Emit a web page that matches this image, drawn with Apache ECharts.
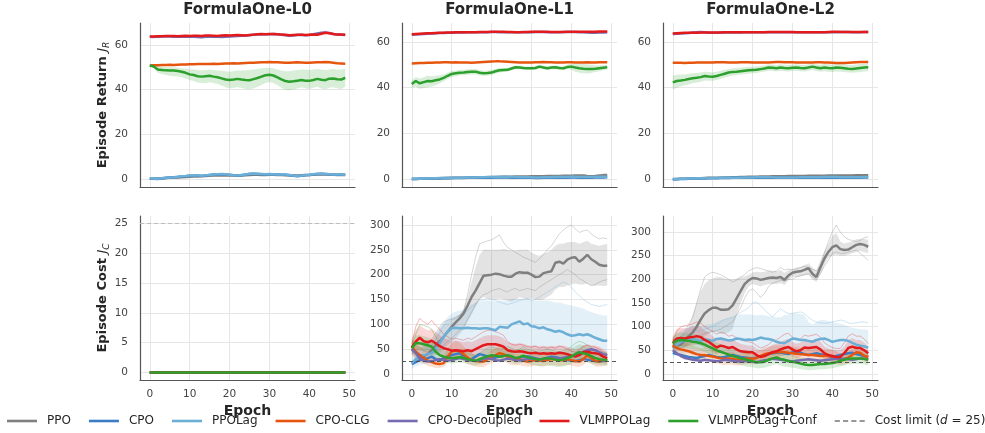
<!DOCTYPE html>
<html>
<head>
<meta charset="utf-8">
<script src="https://cdn.jsdelivr.net/npm/echarts@6/dist/echarts.min.js"></script>
<style>
  html, body { margin: 0; padding: 0; background: #ffffff; }
  #chart { width: 985px; height: 433px; }
</style>
</head>
<body>
<div id="chart"></div>
<script>
// ---------------------------------------------------------------------------
// Training curves on FormulaOne levels L0/L1/L2: episode return and cost
// per epoch for seven algorithms (mean line + spread band, some seed runs).
// ---------------------------------------------------------------------------
const EPOCHS = Array.from({ length: 50 }, (_, i) => i);
const COST_LIMIT = 25;
const METHODS = ['PPO', 'CPO', 'PPOLag', 'CPO-CLG', 'CPO-Decoupled', 'VLMPPOLag', 'VLMPPOLag+Conf'];
const LEVELS = ['FormulaOne-L0', 'FormulaOne-L1', 'FormulaOne-L2'];
const RETURN_TICKS = [0, 20, 40, 60];
const COST_TICKS_L0 = [0, 5, 10, 15, 20, 25];
const COST_TICKS = [0, 50, 100, 150, 200, 250, 300];
const EPOCH_TICKS = [0, 10, 20, 30, 40, 50];

// ---------------- Episode return, L0 ----------------
const ret_l0_ppo = [0.1,0.1,0.2,0.3,0.4,0.5,0.6,0.7,0.8,0.9, 1.0,1.1,1.1,1.2,1.3,1.4,1.5,1.5,1.6,1.6, 1.7,1.6,1.5,1.6,1.7,1.8,1.9,1.9,1.8,1.8, 1.9,1.9,1.8,1.8,1.7,1.7,1.6,1.6,1.7,1.8, 1.8,1.9,2.0,2.1,2.0,1.9,1.9,1.8,1.8,1.8];
const ret_l0_cpo = [0.2,0.1,0.0,0.2,0.4,0.6,0.8,0.9,1.1,1.2, 1.4,1.4,1.5,1.3,1.6,1.8,2.0,2.0,2.1,2.0, 1.9,1.7,1.6,1.7,2.0,2.2,2.3,2.2,2.1,2.0, 2.1,2.1,2.0,1.9,1.9,1.7,1.4,1.2,1.4,1.7, 1.8,2.0,2.2,2.3,2.2,2.1,2.0,1.9,2.0,1.9];
const ret_l0_ppolag = [0.3,0.2,0.1,0.3,0.5,0.7,0.8,1.0,1.2,1.3, 1.5,1.5,1.6,1.4,1.6,1.8,2.0,2.1,2.2,2.1, 1.9,1.7,1.6,1.8,2.0,2.3,2.4,2.3,2.2,2.1, 2.2,2.1,2.0,2.0,2.0,1.8,1.5,1.3,1.5,1.8, 1.9,2.1,2.3,2.3,2.2,2.1,2.0,2.0,2.0,1.9];
const ret_l0_clg = [50.8,50.9,50.9,51.0,51.0,51.1,51.0,51.1,51.2,51.2, 51.3,51.3,51.4,51.4,51.5,51.5,51.6,51.5,51.6,51.7, 51.7,51.8,51.7,51.8,51.9,52.0,52.0,52.1,52.2,52.2, 52.3,52.2,52.2,52.1,52.0,52.0,52.1,52.2,52.1,52.0, 52.0,52.1,52.2,52.2,52.3,52.2,52.0,51.8,51.7,51.6];
const ret_l0_dec = [63.6,63.5,63.7,63.8,63.9,63.8,63.7,63.6,63.6,63.7, 63.8,63.6,63.5,63.4,63.6,63.8,63.7,63.6,63.5,63.6, 63.8,63.9,64.0,64.1,64.2,64.3,64.5,64.6,64.8,64.8, 64.8,64.9,64.8,64.5,64.3,64.1,64.2,64.4,64.5,64.3, 64.4,64.8,65.1,65.4,65.6,65.3,64.9,64.6,64.5,64.4];
const ret_l0_vlm = [63.8,63.8,63.9,63.9,64.0,64.0,64.0,63.9,64.0,64.1, 64.0,64.1,64.1,64.0,64.2,64.2,64.1,64.0,64.2,64.3, 64.2,64.3,64.4,64.3,64.2,64.4,64.6,64.8,64.9,64.8, 64.9,64.9,64.8,64.6,64.5,64.3,64.4,64.5,64.5,64.4, 64.5,64.6,64.5,65.0,65.4,65.2,64.9,64.6,64.6,64.5];
const ret_l0_conf = [50.8,50.3,49.0,48.8,48.6,48.5,48.5,48.3,48.0,47.5, 46.8,46.5,46.0,45.8,46.0,46.2,45.8,45.5,45.0,44.5, 44.3,44.5,44.8,44.5,44.3,44.2,44.7,45.2,45.8,46.4, 46.6,46.3,45.5,44.6,43.8,43.5,43.7,44.0,44.3,44.0, 43.9,44.3,44.8,44.4,44.2,44.9,45.0,44.6,44.5,45.3];
const ret_l0_conf_lo = [50.5,49.5,47.5,47.0,46.5,46.2,46.0,45.8,45.5,45.0, 44.3,43.8,43.2,43.0,43.0,43.3,43.0,42.5,41.8,41.0, 40.5,40.8,41.0,40.7,40.3,40.2,40.5,41.2,42.0,43.0, 43.4,43.0,42.0,40.8,39.8,39.6,40.0,40.5,41.0,40.6, 40.3,40.8,41.3,40.5,40.2,40.8,41.0,40.5,40.3,41.3];
const ret_l0_conf_hi = [51.0,51.0,50.5,50.3,50.0,50.0,50.0,49.8,49.6,49.3, 49.0,49.0,48.8,48.6,48.8,49.0,48.8,48.6,48.4,48.2, 48.0,48.3,48.5,48.5,48.6,48.8,49.0,49.2,49.5,49.7, 49.8,49.5,49.0,48.5,48.2,48.2,48.5,48.8,49.0,49.0, 48.8,49.0,49.2,49.0,48.8,49.0,49.2,49.0,49.0,49.3];

// ---------------- Episode return, L1 ----------------
const ret_l1_ppo = [0.0,0.0,0.1,0.1,0.2,0.2,0.3,0.3,0.4,0.4, 0.5,0.5,0.6,0.6,0.6,0.7,0.7,0.8,0.8,0.8, 0.9,0.9,0.9,1.0,1.0,1.0,1.1,1.1,1.1,1.1, 1.2,1.2,1.2,1.2,1.3,1.3,1.3,1.3,1.4,1.4, 1.4,1.5,1.5,1.5,1.3,1.2,1.3,1.5,1.7,1.8];
const ret_l1_cpo = [0.0,0.0,0.1,0.1,0.1,0.2,0.2,0.2,0.3,0.3, 0.3,0.4,0.4,0.4,0.5,0.5,0.5,0.6,0.6,0.6, 0.6,0.7,0.7,0.7,0.7,0.6,0.6,0.5,0.5,0.5, 0.5,0.4,0.4,0.5,0.5,0.5,0.6,0.6,0.6,0.6, 0.7,0.7,0.6,0.6,0.6,0.6,0.7,0.7,0.7,0.8];
const ret_l1_ppolag = [0.1,0.1,0.1,0.2,0.2,0.3,0.3,0.4,0.4,0.5, 0.5,0.5,0.6,0.6,0.7,0.7,0.7,0.8,0.8,0.9, 0.9,0.9,1.0,1.0,1.0,0.9,0.9,0.8,0.8,0.8, 0.8,0.7,0.7,0.8,0.8,0.8,0.9,0.9,0.9,0.9, 1.0,1.0,0.9,0.9,0.9,0.9,0.9,1.0,1.0,1.0];
const ret_l1_clg = [50.6,50.7,50.8,50.8,50.9,50.9,51.0,51.0,51.1,51.1, 51.0,51.1,51.0,51.0,51.0,50.9,51.0,51.1,51.2,51.3, 51.4,51.5,51.5,51.4,51.3,51.2,51.1,51.0,51.0,51.0, 51.0,51.1,51.1,51.2,51.1,51.1,51.0,51.0,51.0,51.1, 51.1,51.0,51.0,51.0,51.1,51.0,51.0,51.1,51.1,51.1];
const ret_l1_dec = [63.2,63.3,63.4,63.5,63.6,63.7,63.8,63.9,63.9,64.0, 64.0,64.1,64.1,64.1,64.2,64.2,64.2,64.3,64.3,64.3, 64.4,64.4,64.3,64.3,64.3,64.2,64.2,64.2,64.3,64.3, 64.3,64.4,64.4,64.4,64.3,64.3,64.3,64.3,64.4,64.4, 64.4,64.4,64.3,64.2,64.1,64.0,64.0,64.1,64.1,64.2];
const ret_l1_vlm = [63.4,63.5,63.6,63.7,63.8,63.8,63.9,64.0,64.0,64.1, 64.1,64.2,64.2,64.2,64.3,64.3,64.3,64.4,64.4,64.4, 64.5,64.5,64.5,64.5,64.4,64.4,64.3,64.3,64.4,64.4, 64.5,64.5,64.5,64.5,64.5,64.4,64.4,64.4,64.4,64.5, 64.5,64.5,64.5,64.5,64.5,64.5,64.5,64.6,64.6,64.6];
const ret_l1_conf = [41.6,42.9,41.9,42.4,42.9,42.8,43.2,43.6,44.3,45.2, 46.0,46.3,46.5,46.6,46.8,47.0,47.0,46.5,46.3,46.4, 46.6,47.2,47.6,47.7,47.8,48.4,48.9,48.8,48.6,48.5, 48.5,48.6,49.2,48.8,48.5,48.8,48.9,48.6,48.5,49.0, 49.2,48.8,48.5,48.3,48.2,48.2,48.3,48.5,48.7,48.9];
const ret_l1_conf_lo = [40.0,40.5,39.5,39.8,40.2,40.5,41.0,41.8,42.8,43.8, 44.6,45.0,45.3,45.4,45.6,45.8,45.8,45.3,45.2,45.3, 45.5,46.2,46.6,46.8,47.0,47.6,48.1,48.0,47.8,47.7, 47.7,47.8,48.4,48.0,47.7,48.0,48.1,47.8,47.6,48.0, 47.8,47.0,46.5,46.3,46.2,46.4,46.8,47.2,47.6,47.9];
const ret_l1_conf_hi = [43.2,44.6,44.0,44.6,45.2,45.0,45.2,45.4,45.8,46.6, 47.3,47.5,47.7,47.8,48.0,48.2,48.2,47.7,47.4,47.5, 47.7,48.2,48.6,48.6,48.6,49.2,49.7,49.6,49.4,49.3, 49.3,49.4,50.0,49.6,49.3,49.6,49.7,49.4,49.4,50.0, 50.6,50.5,50.5,50.3,50.2,50.0,49.8,49.8,49.8,49.9];

// ---------------- Episode return, L2 ----------------
const ret_l2_ppo = [0.0,0.0,0.1,0.1,0.2,0.2,0.3,0.3,0.4,0.5, 0.5,0.6,0.6,0.7,0.7,0.8,0.8,0.9,0.9,1.0, 1.0,1.0,1.1,1.1,1.1,1.2,1.2,1.2,1.2,1.3, 1.3,1.3,1.3,1.3,1.4,1.4,1.4,1.4,1.4,1.5, 1.5,1.5,1.5,1.5,1.5,1.5,1.6,1.6,1.6,1.6];
const ret_l2_cpo = [-0.2,-0.1,0.0,0.0,0.1,0.1,0.2,0.2,0.2,0.3, 0.3,0.3,0.4,0.4,0.4,0.5,0.5,0.5,0.5,0.6, 0.6,0.6,0.6,0.6,0.6,0.6,0.5,0.5,0.5,0.5, 0.5,0.5,0.5,0.6,0.6,0.6,0.6,0.6,0.6,0.6, 0.6,0.6,0.6,0.6,0.5,0.5,0.6,0.6,0.7,0.7];
const ret_l2_ppolag = [-0.1,0.0,0.1,0.1,0.2,0.2,0.3,0.3,0.3,0.4, 0.4,0.4,0.5,0.5,0.5,0.6,0.6,0.6,0.7,0.7, 0.7,0.8,0.8,0.8,0.8,0.8,0.7,0.7,0.7,0.7, 0.7,0.7,0.8,0.8,0.8,0.8,0.8,0.8,0.9,0.9, 0.9,0.9,0.8,0.8,0.8,0.8,0.8,0.8,0.9,0.9];
const ret_l2_clg = [50.9,50.9,50.9,50.8,50.9,50.9,51.0,51.0,51.0,51.0, 51.0,51.1,51.1,51.1,51.0,51.0,51.0,51.1,51.1,51.1, 51.0,51.0,51.0,51.0,51.0,51.1,51.2,51.2,51.1,51.1, 51.1,51.0,51.0,51.0,51.0,51.0,51.1,51.1,51.0,51.0, 50.9,50.8,50.8,50.8,50.9,51.0,51.1,51.2,51.2,51.2];
const ret_l2_dec = [63.5,63.6,63.7,63.8,63.9,64.1,64.3,64.4,64.2,64.0, 64.0,64.0,64.1,64.1,64.1,64.1,64.1,64.1,64.2,64.2, 64.2,64.2,64.2,64.3,64.3,64.3,64.3,64.3,64.3,64.3, 64.3,64.3,64.2,64.2,64.2,64.2,64.2,64.3,64.3,64.3, 64.3,64.3,64.4,64.4,64.4,64.3,64.3,64.3,64.4,64.4];
const ret_l2_vlm = [63.7,63.8,63.9,64.0,64.0,64.0,64.0,64.1,64.1,64.1, 64.1,64.1,64.1,64.2,64.2,64.2,64.2,64.2,64.2,64.2, 64.3,64.3,64.3,64.3,64.4,64.4,64.4,64.4,64.4,64.4, 64.4,64.3,64.3,64.3,64.3,64.2,64.2,64.3,64.3,64.4, 64.5,64.5,64.4,64.4,64.4,64.4,64.4,64.4,64.4,64.4];
const ret_l2_conf = [42.3,42.9,43.1,43.4,43.8,44.1,44.3,44.6,45.1,44.9, 44.8,45.1,45.6,46.1,46.6,46.9,47.0,47.2,47.4,47.6, 47.7,47.8,48.1,48.4,48.8,48.7,48.5,48.8,48.6,48.5, 48.7,48.8,48.6,48.5,48.8,49.2,48.8,48.5,48.8,48.6, 48.5,48.8,48.7,48.5,48.3,48.2,48.4,48.6,48.8,48.9];
const ret_l2_conf_lo = [39.2,40.0,40.5,41.0,41.5,41.9,42.2,42.6,43.1,43.0, 43.0,43.3,43.8,44.4,44.9,45.3,45.4,45.7,45.9,46.1, 46.3,46.4,46.7,47.1,47.4,47.3,47.1,47.4,47.2,47.1, 47.3,47.4,47.2,47.1,47.4,47.7,47.3,47.0,47.2,47.0, 46.9,47.1,47.0,46.8,46.6,46.5,46.6,46.9,47.1,47.2];
const ret_l2_conf_hi = [45.2,45.6,45.7,45.8,46.1,46.3,46.4,46.6,47.0,46.8, 46.7,47.0,47.4,47.8,48.2,48.5,48.6,48.7,48.9,49.1, 49.2,49.3,49.5,49.8,50.2,50.1,49.9,50.2,50.0,49.9, 50.1,50.2,50.0,49.9,50.2,50.6,50.2,50.0,50.3,50.2, 50.1,50.4,50.3,50.2,50.0,49.9,50.1,50.3,50.5,50.6];

// ---------------- Episode cost, L0 (every method stays at zero) ----------------
const cost_l0 = [0,0,0,0,0,0,0,0,0,0, 0,0,0,0,0,0,0,0,0,0, 0,0,0,0,0,0,0,0,0,0, 0,0,0,0,0,0,0,0,0,0, 0,0,0,0,0,0,0,0,0,0];

// ---------------- Episode cost, L1 ----------------
const cost_l1_ppo = [50,44,38,36,40,48,58,66,75,85, 95,104,112,122,138,155,168,183,198,199, 200,202,201,198,196,196,202,205,204,204, 200,195,196,203,205,207,224,226,222,230, 234,235,226,232,240,231,226,220,218,218];
const cost_l1_ppo_lo = [40,32,25,22,25,30,38,44,50,58, 65,72,80,90,105,120,135,150,155,152, 150,150,152,150,148,146,150,155,152,150, 152,150,148,150,155,160,170,175,175,178, 180,182,180,180,182,178,178,178,177,178];
const cost_l1_ppo_hi = [60,58,55,55,60,68,80,92,100,105, 110,115,120,130,155,185,215,240,250,250, 250,250,250,252,250,248,248,250,250,250, 245,240,238,242,245,250,258,262,262,265, 266,265,262,265,268,262,260,258,260,262];
const cost_l1_ppo_seed_a = [55,60,62,58,62,70,82,95,105,108, 110,112,118,128,160,200,235,262,265,268, 270,275,280,265,255,250,245,240,235,232, 228,225,232,240,250,258,270,282,290,296, 300,292,285,288,290,282,276,272,274,272];
const cost_l1_ppo_seed_b = [45,38,30,30,32,38,45,50,58,66, 72,80,88,95,110,125,140,152,160,162, 168,170,172,168,165,170,172,168,170,172, 170,168,175,180,185,190,195,200,205,210, 205,200,192,188,182,178,180,185,188,190];
const cost_l1_cpo = [20,24,28,30,32,35,30,28,32,35, 38,40,42,35,28,30,35,40,38,36, 34,33,35,37,36,34,32,33,35,36, 34,32,30,31,33,35,34,32,30,28, 27,26,28,30,29,27,26,25,26,27];
const cost_l1_ppolag = [22,30,35,38,40,42,50,62,75,85, 92,93,92,92,93,92,92,91,92,92, 90,88,95,94,93,100,103,106,100,102, 96,95,92,94,90,88,85,87,84,80, 77,78,80,78,80,77,73,70,67,67];
const cost_l1_ppolag_lo = [10,15,18,20,22,22,25,28,32,35, 36,36,35,34,35,35,34,33,34,34, 33,32,35,35,35,38,40,42,40,40, 38,37,35,36,35,34,33,34,33,32, 31,31,32,31,32,31,30,30,28,28];
const cost_l1_ppolag_hi = [38,45,52,56,58,62,75,92,105,115, 122,126,128,130,135,140,144,146,148,148, 147,146,148,148,148,150,152,152,150,150, 148,148,147,148,148,146,144,144,142,140, 138,136,134,132,128,125,122,120,118,118];
const cost_l1_ppolag_seed = [20,28,36,45,52,58,68,82,98,108, 112,115,118,122,128,135,142,148,150,152, 150,148,145,142,140,142,145,148,150,152, 148,150,155,160,165,170,175,180,185,182, 175,165,158,150,145,140,138,136,138,140];
const cost_l1_clg = [55,45,38,32,27,24,21,20,22,35, 45,48,46,40,33,28,26,25,25,30, 35,38,42,40,35,30,28,30,27,25, 26,28,27,26,28,30,29,27,28,30, 28,26,25,30,38,32,26,25,28,30];
const cost_l1_clg_lo = [40,30,25,20,16,14,12,12,14,22, 30,32,30,26,20,17,15,14,14,18, 22,25,28,26,22,18,17,18,16,15, 15,17,16,15,17,18,17,16,17,18, 17,15,14,18,24,20,15,14,16,18];
const cost_l1_clg_hi = [72,62,55,48,42,38,34,32,34,52, 62,66,64,56,48,42,38,36,36,42, 48,52,58,56,50,44,40,42,40,36, 38,40,38,37,40,42,41,39,40,42, 40,38,36,42,52,46,38,36,40,42];
const cost_l1_dec = [50,42,32,27,25,26,28,30,28,27, 28,30,32,30,28,27,26,28,30,32, 30,28,27,29,31,30,28,27,29,30, 31,30,29,30,32,33,32,31,33,35, 36,38,40,45,48,50,48,44,40,38];
const cost_l1_vlm = [54,65,73,66,64,67,62,56,52,50, 47,48,47,46,48,46,50,54,58,60, 60,60,58,55,48,46,45,46,45,43, 42,43,41,42,41,42,41,43,42,40, 37,35,38,44,45,43,42,40,35,32];
const cost_l1_vlm_lo = [38,45,50,45,42,44,40,36,34,32, 30,31,30,30,31,30,33,36,40,42, 42,42,40,38,33,31,30,31,30,29, 28,29,27,28,27,28,27,29,28,26, 24,22,25,30,31,29,28,26,22,20];
const cost_l1_vlm_hi = [72,88,98,92,88,90,85,78,72,70, 66,68,66,64,66,64,68,72,76,78, 78,78,76,72,64,62,61,62,61,58, 57,58,56,57,56,57,56,58,57,55, 52,50,53,58,60,58,57,55,50,46];
const cost_l1_vlm_seed = [60,95,112,105,100,108,98,90,80,75, 70,72,70,68,72,70,75,80,85,88, 88,85,82,78,65,60,58,60,58,55, 54,56,52,54,52,54,52,56,54,50, 46,44,48,55,58,55,54,50,45,40];
const cost_l1_conf = [52,62,62,60,58,55,45,38,35,33, 32,33,34,33,30,28,27,30,33,36, 38,37,35,36,38,36,32,34,37,34, 32,30,29,31,32,31,29,28,29,32, 35,40,44,42,40,36,32,30,29,28];
const cost_l1_conf_lo = [40,48,48,46,44,42,32,26,24,22, 21,22,23,22,20,18,17,19,22,24, 26,25,23,24,25,23,20,21,23,21, 19,17,15,16,17,16,15,14,15,17, 20,25,28,27,24,21,19,18,17,16];
const cost_l1_conf_hi = [65,78,78,76,74,70,60,52,48,46, 44,45,46,45,42,40,38,42,46,50, 52,50,48,49,52,50,46,48,52,48, 46,44,44,46,48,46,44,43,45,48, 52,56,60,58,55,50,46,44,42,41];
const cost_l1_conf_seed = [55,80,100,98,95,90,75,60,52,48, 45,46,47,46,42,40,38,42,48,52, 55,52,50,52,55,52,48,50,55,50, 48,46,46,48,50,48,46,45,47,50, 55,62,66,63,58,52,48,45,44,42];

// ---------------- Episode cost, L2 ----------------
const cost_l2_ppo = [62,60,62,70,80,88,100,115,128,135, 140,140,136,136,137,145,160,175,190,198, 203,202,199,201,203,204,203,205,199,208, 214,216,217,220,224,212,205,225,244,258, 268,272,264,262,263,268,273,275,273,269];
const cost_l2_ppo_lo = [50,48,50,55,60,65,70,75,80,85, 90,88,85,85,88,95,125,150,170,185, 190,188,185,188,190,190,190,192,188,198, 205,205,206,208,210,200,195,210,230,245, 250,252,250,250,252,255,258,260,258,255];
const cost_l2_ppo_hi = [75,75,78,88,100,125,150,175,190,198, 202,205,205,202,200,200,202,205,206,210, 215,216,215,216,218,218,217,220,214,220, 222,225,226,230,234,225,218,240,260,275, 292,298,280,276,278,280,285,286,286,284];
const cost_l2_ppo_seed_a = [70,72,78,90,105,120,150,180,205,212, 215,213,210,205,200,195,198,205,210,218, 222,225,223,220,218,215,218,225,220,222, 220,222,225,228,225,222,218,230,255,280, 300,315,300,290,285,282,280,282,288,290];
const cost_l2_ppo_seed_b = [55,52,55,60,68,72,78,82,86,88, 90,92,95,100,105,110,125,140,160,175, 180,172,162,170,185,192,195,198,196,200, 200,205,208,210,212,205,200,212,228,240, 255,258,255,255,258,260,262,255,248,240];
const cost_l2_cpo = [45,42,40,38,36,35,34,36,38,40, 38,36,35,36,38,40,38,36,35,34, 33,35,38,40,42,44,45,46,44,42, 46,48,45,42,40,42,44,42,40,38, 36,38,40,42,44,45,42,40,38,36];
const cost_l2_ppolag = [55,62,68,70,72,74,72,70,73,72, 70,74,75,73,71,72,75,74,72,73, 72,74,77,75,74,72,68,66,65,70, 75,74,72,72,70,68,72,74,75,72, 68,70,72,72,70,66,62,60,58,56];
const cost_l2_ppolag_lo = [35,40,42,44,45,46,45,44,45,44, 42,44,45,44,42,42,44,44,42,42, 42,44,45,44,43,42,40,38,38,40, 42,42,40,40,40,38,40,42,42,40, 38,40,40,40,38,36,34,33,32,31];
const cost_l2_ppolag_hi = [75,85,92,96,98,102,100,100,104,105, 106,110,114,116,118,120,124,126,126,126, 125,124,125,124,122,122,120,120,124,126, 128,128,127,125,110,104,110,114,114,112, 110,108,106,104,100,98,96,95,94,93];
const cost_l2_ppolag_seed = [60,70,80,85,90,95,92,90,95,98, 100,105,110,115,118,120,125,130,135,140, 150,152,145,135,128,121,130,138,132,128, 128,130,131,128,120,114,110,108,107,108, 110,112,114,112,108,107,108,110,110,108];
const cost_l2_clg = [60,55,52,50,48,45,42,40,40,38, 37,35,33,32,33,32,30,30,32,33, 32,34,38,42,44,45,46,47,46,45, 44,43,42,41,40,40,39,38,38,38, 37,34,30,32,35,40,46,45,38,36];
const cost_l2_clg_lo = [45,40,37,35,33,30,28,27,27,25, 24,22,20,19,20,19,18,18,20,21, 20,22,25,29,31,32,33,34,33,32, 31,30,29,28,27,27,26,25,25,25, 24,21,18,20,23,27,32,31,25,23];
const cost_l2_clg_hi = [78,72,68,66,64,60,57,55,55,52, 51,49,47,46,47,46,43,43,45,46, 45,47,52,56,58,59,60,61,60,59, 58,57,56,55,54,54,53,52,52,52, 51,48,43,45,48,54,60,59,52,50];
const cost_l2_dec = [50,44,38,34,32,30,29,28,30,29, 28,27,28,30,29,28,27,26,27,28, 26,25,27,29,30,32,31,30,29,28, 27,28,29,30,31,30,29,28,29,30, 31,32,33,32,31,30,31,33,32,30];
const cost_l2_vlm = [65,75,76,75,77,78,80,78,72,68, 62,56,60,58,55,57,52,48,47,46, 46,40,36,38,42,46,48,52,55,57, 52,48,50,56,55,56,57,52,44,40, 38,36,36,44,55,58,55,55,50,44];
const cost_l2_vlm_lo = [50,58,60,58,60,60,62,60,55,52, 46,42,45,43,40,42,38,34,33,32, 32,27,24,26,29,32,34,38,40,42, 38,34,36,41,40,41,42,38,31,28, 26,24,24,31,40,43,41,41,36,31];
const cost_l2_vlm_hi = [80,95,98,96,98,100,102,100,92,88, 80,74,78,76,72,74,68,64,62,60, 60,54,50,52,56,62,64,68,72,74, 68,64,66,72,71,72,73,68,58,54, 52,50,50,58,72,76,72,72,66,58];
const cost_l2_vlm_seed = [70,90,100,102,104,106,110,108,100,95, 90,84,88,86,80,82,76,72,70,68, 66,60,55,58,62,70,72,78,84,86, 78,72,74,82,80,82,84,78,66,60, 56,54,54,66,80,85,80,80,74,64];
const cost_l2_conf = [65,70,72,71,70,68,67,65,62,58, 54,50,47,44,41,38,36,33,31,29, 27,25,25,26,30,33,35,32,30,27, 26,24,22,20,19,19,20,21,21,22, 23,25,28,30,32,33,33,33,32,30];
const cost_l2_conf_lo = [50,55,56,55,54,52,51,49,46,42, 38,34,31,28,26,23,21,19,17,15, 14,12,12,13,16,19,21,18,16,14, 13,12,10,9,8,8,9,10,10,11, 12,14,16,18,20,21,21,21,20,18];
const cost_l2_conf_hi = [80,86,88,87,86,84,83,81,78,74, 70,66,63,60,57,54,51,48,46,43, 41,39,39,40,44,47,49,46,44,41, 40,37,35,33,31,31,32,33,33,34, 35,37,41,43,45,46,46,46,45,43];

// ---------------------------------------------------------------------------
// Styling and layout
// ---------------------------------------------------------------------------
const COLORS = {
  'PPO': '#7f7f7f',
  'CPO': '#3b7dc4',
  'PPOLag': '#6baed6',
  'CPO-CLG': '#e6550d',
  'CPO-Decoupled': '#756bb1',
  'VLMPPOLag': '#e31a1c',
  'VLMPPOLag+Conf': '#2ca02c'
};
const FONT = 'DejaVu Sans';
const TEXT = '#262626';
const COL_LEFT = [140, 402, 663];
const ROW_TOP = [23, 216];
const PLOT_W = 215;
const PLOT_H = 164;
const X_RANGE = [-2.45, 51.45];

const PANELS = [
  { row: 0, col: 0, y: [-3.6, 69.8], ticks: RETURN_TICKS,
    lines: [ret_l0_ppo, ret_l0_cpo, ret_l0_ppolag, ret_l0_clg, ret_l0_dec, ret_l0_vlm, ret_l0_conf],
    bands: [['VLMPPOLag+Conf', ret_l0_conf_lo, ret_l0_conf_hi]], seeds: [] },
  { row: 0, col: 1, y: [-3.5, 68.3], ticks: RETURN_TICKS,
    lines: [ret_l1_ppo, ret_l1_cpo, ret_l1_ppolag, ret_l1_clg, ret_l1_dec, ret_l1_vlm, ret_l1_conf],
    bands: [['VLMPPOLag+Conf', ret_l1_conf_lo, ret_l1_conf_hi]], seeds: [] },
  { row: 0, col: 2, y: [-3.5, 68.3], ticks: RETURN_TICKS,
    lines: [ret_l2_ppo, ret_l2_cpo, ret_l2_ppolag, ret_l2_clg, ret_l2_dec, ret_l2_vlm, ret_l2_conf],
    bands: [['VLMPPOLag+Conf', ret_l2_conf_lo, ret_l2_conf_hi]], seeds: [] },
  { row: 1, col: 0, y: [-1.25, 26.25], ticks: COST_TICKS_L0, limitColor: '#bdbdbd',
    lines: [cost_l0, cost_l0, cost_l0, cost_l0, cost_l0, cost_l0, cost_l0],
    bands: [], seeds: [] },
  { row: 1, col: 1, y: [-12, 318], ticks: COST_TICKS, limitColor: '#555555',
    lines: [cost_l1_ppo, cost_l1_cpo, cost_l1_ppolag, cost_l1_clg, cost_l1_dec, cost_l1_vlm, cost_l1_conf],
    bands: [['PPO', cost_l1_ppo_lo, cost_l1_ppo_hi], ['PPOLag', cost_l1_ppolag_lo, cost_l1_ppolag_hi],
            ['CPO-CLG', cost_l1_clg_lo, cost_l1_clg_hi], ['VLMPPOLag', cost_l1_vlm_lo, cost_l1_vlm_hi],
            ['VLMPPOLag+Conf', cost_l1_conf_lo, cost_l1_conf_hi]],
    seeds: [['PPO', cost_l1_ppo_seed_a], ['PPO', cost_l1_ppo_seed_b], ['PPOLag', cost_l1_ppolag_seed],
            ['VLMPPOLag', cost_l1_vlm_seed], ['VLMPPOLag+Conf', cost_l1_conf_seed]] },
  { row: 1, col: 2, y: [-12.7, 334], ticks: COST_TICKS, limitColor: '#555555',
    lines: [cost_l2_ppo, cost_l2_cpo, cost_l2_ppolag, cost_l2_clg, cost_l2_dec, cost_l2_vlm, cost_l2_conf],
    bands: [['PPO', cost_l2_ppo_lo, cost_l2_ppo_hi], ['PPOLag', cost_l2_ppolag_lo, cost_l2_ppolag_hi],
            ['CPO-CLG', cost_l2_clg_lo, cost_l2_clg_hi], ['VLMPPOLag', cost_l2_vlm_lo, cost_l2_vlm_hi],
            ['VLMPPOLag+Conf', cost_l2_conf_lo, cost_l2_conf_hi]],
    seeds: [['PPO', cost_l2_ppo_seed_a], ['PPO', cost_l2_ppo_seed_b], ['PPOLag', cost_l2_ppolag_seed],
            ['VLMPPOLag', cost_l2_vlm_seed]] }
];

const pairs = (arr) => EPOCHS.map((e, i) => [e, arr[i]]);

// Filled region between a lower and an upper curve, drawn as one polygon
// whose vertices come from the axis scales (api.coord).
function bandSeries(gi, key, color, opacity, lo, hi) {
  return {
    type: 'custom', name: key, xAxisIndex: gi, yAxisIndex: gi, silent: true, clip: true,
    data: EPOCHS.map((e, i) => [e, lo[i], hi[i]]),
    encode: { x: 0, y: [1, 2] },
    renderItem: (params, api) => {
      if (params.dataIndex !== 0) return null;
      const upper = EPOCHS.map((e, i) => api.coord([e, hi[i]]));
      const lower = EPOCHS.map((e, i) => api.coord([e, lo[i]])).reverse();
      return {
        type: 'polygon',
        shape: { points: upper.concat(lower) },
        style: { fill: color, opacity: opacity, stroke: null }
      };
    }
  };
}

const grids = [], xAxes = [], yAxes = [], series = [];

PANELS.forEach((p, gi) => {
  grids.push({ left: COL_LEFT[p.col], top: ROW_TOP[p.row], width: PLOT_W, height: PLOT_H, containLabel: false });
  const bottomRow = p.row === 1;
  xAxes.push({
    type: 'value', gridIndex: gi, min: X_RANGE[0], max: X_RANGE[1],
    name: bottomRow ? 'Epoch' : '', nameLocation: 'middle', nameGap: 24,
    nameTextStyle: { fontFamily: FONT, fontSize: 14, fontWeight: 'bold', color: TEXT },
    axisLine: { show: true, onZero: false, lineStyle: { color: '#555555', width: 1.2 } },
    axisTick: { show: false, customValues: EPOCH_TICKS },
    axisLabel: { show: bottomRow, customValues: EPOCH_TICKS, margin: 9, fontFamily: FONT, fontSize: 10.5, color: '#444444' },
    splitLine: { show: true, customValues: EPOCH_TICKS, lineStyle: { color: '#e6e6e6', width: 1 } }
  });
  const yName = p.col === 0 ? (p.row === 0 ? '{b|Episode Return }{i|J}{s|R}' : '{b|Episode Cost }{i|J}{s|C}') : '';
  yAxes.push({
    type: 'value', gridIndex: gi, min: p.y[0], max: p.y[1],
    name: yName, nameLocation: 'middle', nameGap: 29,
    nameTextStyle: {
      fontFamily: FONT, color: TEXT,
      rich: {
        b: { fontFamily: FONT, fontSize: 13, fontWeight: 'bold', color: TEXT },
        i: { fontFamily: FONT, fontSize: 13, fontStyle: 'italic', color: TEXT },
        s: { fontFamily: FONT, fontSize: 9, fontStyle: 'italic', color: TEXT, padding: [7, 0, 0, 0] }
      }
    },
    axisLine: { show: true, onZero: false, lineStyle: { color: '#555555', width: 1.2 } },
    axisTick: { show: false, customValues: p.ticks },
    axisLabel: { customValues: p.ticks, margin: 12, fontFamily: FONT, fontSize: 10.5, color: '#444444' },
    splitLine: { show: true, customValues: p.ticks, lineStyle: { color: '#e6e6e6', width: 1 } }
  });

  // spread bands
  p.bands.forEach(([m, lo, hi], bi) => {
    series.push(bandSeries(gi, 'band-' + gi + '-' + bi, COLORS[m], m === 'PPO' ? 0.22 : 0.18, lo, hi));
  });

  // individual seed runs, thin and faint
  p.seeds.forEach(([m, arr], si) => {
    series.push({
      type: 'line', name: 'seed-' + gi + '-' + si, xAxisIndex: gi, yAxisIndex: gi,
      data: pairs(arr), symbol: 'none', silent: true,
      lineStyle: { color: COLORS[m], width: 0.8, opacity: 0.4 }
    });
  });

  // mean curves
  METHODS.forEach((m, mi) => {
    series.push({
      type: 'line', name: m, xAxisIndex: gi, yAxisIndex: gi,
      data: pairs(p.lines[mi]), symbol: 'none', silent: true,
      itemStyle: { color: COLORS[m] },
      lineStyle: { color: COLORS[m], width: 2.5 }
    });
  });

  // cost limit reference line
  if (p.row === 1) {
    series.push({
      type: 'line', name: 'Cost limit', xAxisIndex: gi, yAxisIndex: gi, data: [],
      itemStyle: { color: '#777777' }, lineStyle: { color: '#777777' },
      markLine: {
        silent: true, symbol: ['none', 'none'], label: { show: false },
        lineStyle: { color: p.limitColor, type: [4, 3], width: 1.2 },
        data: [{ yAxis: COST_LIMIT }]
      }
    });
  }
});

const LINE_ICON = 'path://M0,0H30V2.6H0Z';
const DASH_ICON = 'path://M0,0H5V1.6H0Z M8,0H13V1.6H8Z M16,0H21V1.6H16Z M24,0H29V1.6H24Z';

const option = {
  backgroundColor: '#ffffff',
  animation: false,
  grid: grids,
  xAxis: xAxes,
  yAxis: yAxes,
  series,
  legend: {
    left: 7, top: 415, width: 1100, padding: 0, itemGap: 18, itemWidth: 30, itemHeight: 14,
    selectedMode: false,
    itemStyle: { borderWidth: 0 },
    textStyle: {
      fontFamily: FONT, fontSize: 12, color: TEXT, padding: [0, 0, 0, 5],
      rich: {
        t: { fontFamily: FONT, fontSize: 12, color: TEXT },
        d: { fontFamily: FONT, fontSize: 12, fontStyle: 'italic', color: TEXT }
      }
    },
    formatter: (n) => n === 'Cost limit' ? '{t|Cost limit (}{d|d}{t| = ' + COST_LIMIT + ')}' : n,
    data: METHODS.map((m) => ({ name: m, icon: LINE_ICON }))
      .concat([{ name: 'Cost limit', icon: DASH_ICON }])
  },
  graphic: LEVELS.map((t, c) => ({
    type: 'text', x: COL_LEFT[c] + PLOT_W / 2, y: 3, silent: true,
    style: { text: t, fill: TEXT, font: 'bold 15px "DejaVu Sans"', align: 'center', verticalAlign: 'top' }
  }))
};

const chart = echarts.init(document.getElementById('chart'), null, { renderer: 'canvas' });
chart.setOption(option);
</script>
</body>
</html>
